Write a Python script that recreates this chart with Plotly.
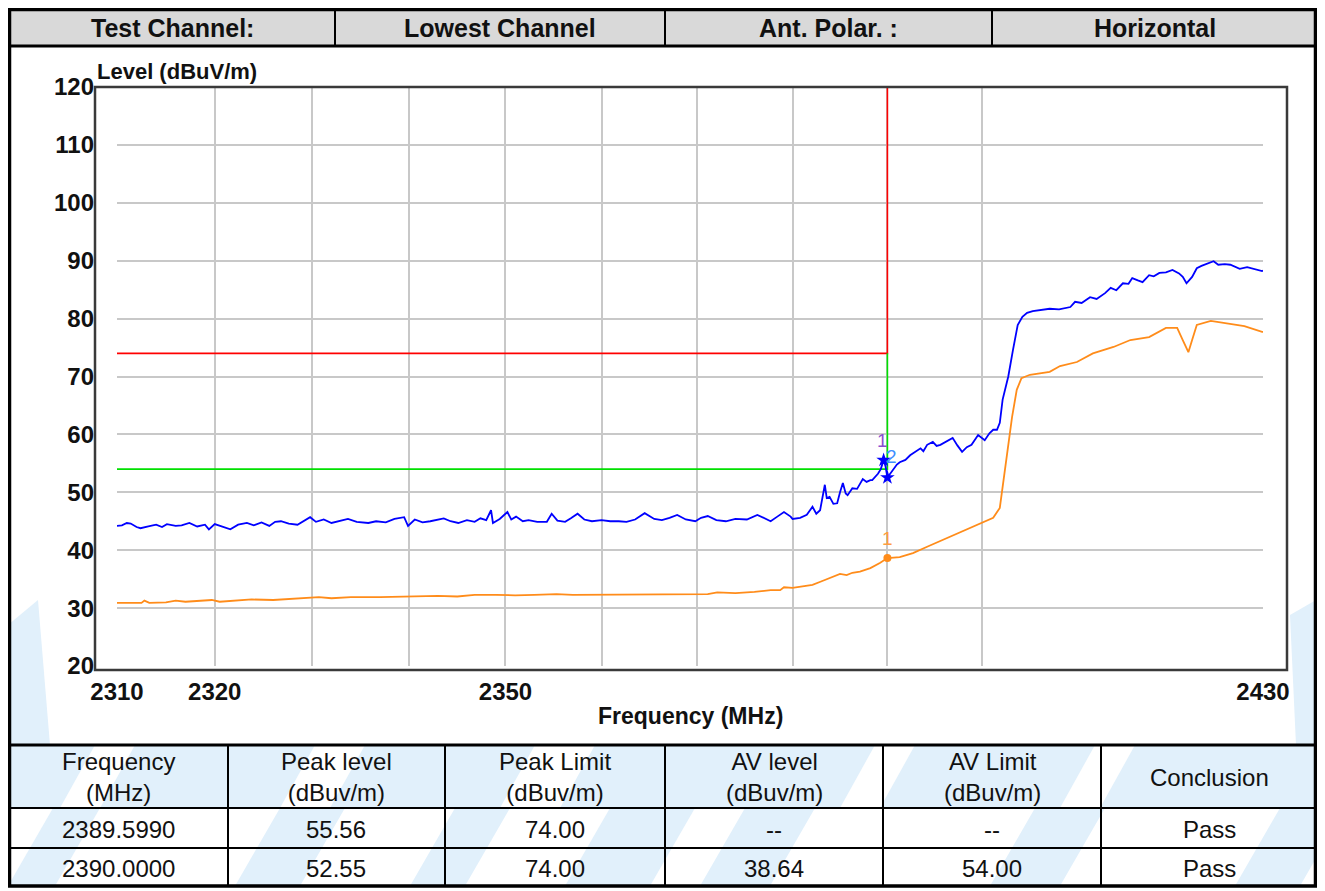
import math
import plotly.graph_objects as go

# The page body has an 8px margin, so the figure is sized to fill the rest of the window
OFF = 8
W, H = 1325 - OFF, 891 - OFF

# ---------------- data ----------------
peak_freq = [2310.0, 2310.5, 2311.0, 2311.4, 2312.0, 2312.4, 2313.2, 2314.0, 2314.6, 2315.1,
             2316.0, 2316.6, 2317.4, 2318.2, 2319.0, 2319.4, 2320.0, 2320.8, 2321.6, 2322.4,
             2323.3, 2324.0, 2324.8, 2325.6, 2326.2, 2326.8, 2327.6, 2328.5, 2329.2, 2329.8,
             2330.4, 2331.2, 2332.0, 2332.8, 2333.7, 2334.6, 2335.8, 2336.6, 2337.6, 2338.5,
             2339.5, 2339.9, 2340.6, 2341.4, 2342.2, 2343.6, 2344.3, 2345.1, 2346.0, 2346.8,
             2347.4, 2348.0, 2348.5, 2348.7, 2349.4, 2350.2, 2350.6, 2351.1, 2351.8, 2352.4,
             2353.3, 2354.3, 2354.8, 2355.4, 2356.2, 2356.8, 2357.5, 2358.2, 2359.0, 2360.0,
             2360.9, 2361.8, 2362.6, 2363.5, 2364.5, 2365.5, 2366.3, 2367.1, 2367.9, 2368.8,
             2369.8, 2370.4, 2371.1, 2372.0, 2373.0, 2374.0, 2375.2, 2376.3, 2377.0, 2377.7,
             2378.4, 2379.1, 2379.8, 2380.0, 2380.8, 2381.5, 2382.1, 2382.5, 2382.9, 2383.4,
             2383.6, 2383.9, 2384.3, 2384.7, 2385.0, 2385.3, 2385.6, 2385.8, 2386.3, 2386.8,
             2387.4, 2387.8, 2388.2, 2388.4, 2389.0, 2389.3, 2389.6, 2389.8, 2390.0, 2390.3,
             2390.6, 2391.0, 2391.3, 2391.9, 2392.4, 2392.9, 2393.5, 2393.8, 2394.2, 2394.8,
             2395.2, 2395.6, 2396.2, 2396.9, 2397.4, 2397.9, 2398.4, 2398.9, 2399.6, 2400.3,
             2400.8, 2401.2, 2401.6, 2401.9, 2402.2, 2402.8, 2403.3, 2403.8, 2404.3, 2404.8,
             2405.4, 2406.3, 2407.2, 2408.2, 2409.4, 2409.9, 2410.6, 2411.5, 2412.2, 2413.1,
             2413.7, 2414.3, 2415.0, 2415.6, 2416.0, 2416.6, 2417.1, 2417.8, 2418.3, 2418.9,
             2419.6, 2420.3, 2421.0, 2421.4, 2421.8, 2422.4, 2422.9, 2423.4, 2423.9, 2424.7,
             2425.2, 2425.9, 2426.5, 2427.0, 2427.5, 2428.3, 2429.0, 2429.9, 2430.0]
peak_level = [44.2, 44.3, 44.7, 44.6, 44.0, 43.8, 44.1, 44.4, 44.0, 44.5,
              44.2, 44.3, 44.7, 44.1, 44.4, 43.6, 44.5, 44.0, 43.6, 44.4,
              44.7, 44.3, 44.8, 44.2, 44.9, 45.0, 44.6, 44.4, 45.1, 45.7,
              44.9, 45.3, 44.7, 45.0, 45.4, 44.9, 44.7, 45.0, 44.8, 45.4,
              45.7, 44.2, 45.3, 44.8, 45.0, 45.5, 45.0, 44.7, 45.2, 44.9,
              45.5, 45.2, 46.9, 44.7, 45.4, 46.6, 45.3, 45.8, 45.0, 45.2,
              44.9, 44.9, 46.3, 45.1, 44.9, 45.5, 46.3, 45.3, 45.0, 45.2,
              45.0, 45.0, 44.9, 45.3, 46.4, 45.4, 45.2, 45.6, 46.1, 45.3,
              45.0, 45.6, 45.9, 45.2, 45.0, 45.4, 45.3, 46.1, 45.6, 45.0,
              45.8, 46.6, 45.8, 45.4, 45.6, 46.1, 47.5, 46.3, 46.9, 51.3,
              49.0, 49.2, 48.0, 48.1, 50.0, 51.6, 49.8, 49.5, 50.7, 50.6,
              52.3, 51.8, 52.1, 52.1, 53.2, 54.0, 55.56, 54.5, 52.55, 53.2,
              53.9, 54.8, 55.2, 55.6, 56.4, 56.9, 57.6, 57.1, 58.2, 58.7,
              58.0, 58.2, 58.8, 59.4, 58.1, 57.0, 57.8, 58.2, 59.9, 59.0,
              60.2, 60.8, 60.8, 62.0, 66.0, 70.0, 74.6, 78.9, 80.3, 81.0,
              81.3, 81.5, 81.7, 81.6, 82.0, 82.9, 82.7, 83.7, 83.4, 84.4,
              85.3, 84.9, 86.1, 86.0, 87.0, 86.6, 86.3, 87.5, 87.3, 87.9,
              88.0, 88.4, 87.8, 87.2, 86.1, 87.2, 88.7, 89.1, 89.4, 89.9,
              89.3, 89.4, 89.3, 89.0, 88.6, 88.9, 88.6, 88.2, 88.3]

avg_freq = [2310.0, 2311.5, 2312.5, 2312.8, 2313.3, 2315.0, 2316.0, 2317.0, 2319.7, 2320.5,
            2322.0, 2323.8, 2326.0, 2328.9, 2330.7, 2332.0, 2334.0, 2337.0, 2340.4, 2343.0,
            2345.0, 2346.8, 2349.0, 2351.0, 2353.0, 2355.3, 2357.0, 2359.0, 2362.0, 2365.0,
            2368.0, 2371.1, 2372.1, 2374.0, 2376.0, 2377.7, 2378.7, 2379.1, 2380.0, 2381.0,
            2382.1, 2383.0, 2383.9, 2385.0, 2385.7, 2386.3, 2387.1, 2388.2, 2389.2, 2390.0,
            2391.3, 2392.7, 2394.2, 2395.2, 2396.9, 2398.7, 2400.1, 2401.2, 2401.9, 2402.2,
            2402.7, 2403.2, 2403.7, 2404.2, 2405.1, 2407.2, 2408.3, 2410.1, 2411.8, 2414.0,
            2415.8, 2417.8, 2419.6, 2420.8, 2421.4, 2422.0, 2422.4, 2422.9, 2424.4, 2425.9,
            2428.0, 2429.9, 2430.0]
avg_level = [30.9, 30.9, 30.9, 31.3, 30.9, 31.0, 31.3, 31.1, 31.4, 31.1,
             31.3, 31.5, 31.4, 31.7, 31.9, 31.7, 31.9, 31.9, 32.0, 32.1,
             32.0, 32.3, 32.3, 32.2, 32.3, 32.4, 32.3, 32.3, 32.4, 32.4,
             32.4, 32.4, 32.7, 32.6, 32.8, 33.1, 33.1, 33.6, 33.5, 33.7,
             34.0, 34.6, 35.2, 35.9, 35.7, 36.1, 36.3, 36.9, 37.8, 38.64,
             38.8, 39.5, 40.6, 41.3, 42.6, 43.8, 44.7, 45.6, 47.3, 50.9,
             56.8, 63.0, 67.7, 69.7, 70.3, 70.8, 71.8, 72.5, 74.0, 75.1,
             76.3, 76.8, 78.4, 78.4, 76.3, 74.2, 76.3, 78.9, 79.6, 79.2,
             78.7, 77.7, 77.7]

peak_limit_freq = [2310, 2390, 2390]
peak_limit_level = [74, 74, 120]
avg_limit_freq = [2310, 2390, 2390]
avg_limit_level = [54, 54, 74]

peak_marker_freq = [2389.599, 2390.0]
peak_marker_level = [55.56, 52.55]
avg_marker_freq = [2390.0]
avg_marker_level = [38.64]

x_tick_vals = [2310, 2320, 2330, 2340, 2350, 2360, 2370, 2380, 2390, 2400, 2430]
x_tick_text = ["2310", "2320", "", "", "2350", "", "", "", "", "", "2430"]
y_tick_vals = [20, 30, 40, 50, 60, 70, 80, 90, 100, 110, 120]

header_cells = ["Test Channel:", "Lowest Channel", "Ant. Polar. :", "Horizontal"]
table_header = ["Frequency<br>(MHz)", "Peak level<br>(dBuv/m)", "Peak Limit<br>(dBuv/m)",
                "AV level<br>(dBuv/m)", "AV Limit<br>(dBuv/m)", "Conclusion"]
table_rows = [["2389.5990", "55.56", "74.00", "--", "--", "Pass"],
              ["2390.0000", "52.55", "74.00", "38.64", "54.00", "Pass"]]

# ---------------- layout helpers (window pixels -> paper) ----------------
def px(x):
    return (x - OFF) / W

def py(y):
    return 1 - (y - OFF) / H

FONT = "Liberation Sans, Arial, sans-serif"
TXT = "#111111"
WM = "#e1f0fb"

fig = go.Figure()

fig.add_trace(go.Scatter(x=peak_limit_freq, y=peak_limit_level, mode="lines",
                         line=dict(color="#ff0000", width=1.6), hoverinfo="skip"))
fig.add_trace(go.Scatter(x=avg_limit_freq, y=avg_limit_level, mode="lines",
                         line=dict(color="#00e000", width=1.6), hoverinfo="skip"))
fig.add_trace(go.Scatter(x=avg_freq, y=avg_level, mode="lines",
                         line=dict(color="#ff8c1a", width=1.8)))
fig.add_trace(go.Scatter(x=peak_freq, y=peak_level, mode="lines",
                         line=dict(color="#0000ff", width=1.8)))
fig.add_trace(go.Scatter(x=peak_marker_freq, y=peak_marker_level, mode="markers",
                         marker=dict(symbol="star", size=11, color="#0000ff")))
fig.add_trace(go.Scatter(x=avg_marker_freq, y=avg_marker_level, mode="markers",
                         marker=dict(symbol="circle", size=8, color="#ff8c1a")))

shapes = []

def poly(pts, color):
    path = "M " + " L ".join(f"{px(a):.5f},{py(b):.5f}" for a, b in pts) + " Z"
    return dict(type="path", xref="paper", yref="paper", path=path,
                fillcolor=color, line=dict(width=0), layer="below")

def band(x0, x1, y_bot, y_top, shift, color):
    return poly([(x0, y_bot), (x1, y_bot), (x1 + shift, y_top), (x0 + shift, y_top)], color)

# watermark
shapes.append(poly([(8, 745), (50, 745), (38, 600), (8, 625)], WM))
shapes.append(poly([(1290, 615), (1316, 600), (1316, 745), (1296, 745)], WM))
shapes.append(dict(type="rect", xref="paper", yref="paper", x0=px(8), x1=px(1316),
                   y0=py(808), y1=py(745), fillcolor=WM, line=dict(width=0), layer="below"))
for a, b in [(60, 100), (280, 330), (500, 560), (840, 880), (1060, 1100)]:
    shapes.append(band(a, b, 808, 745, 35, "#ffffff"))
for a, b in [(8, 55), (235, 300), (410, 465), (565, 650), (700, 770), (990, 1060), (1235, 1300)]:
    shapes.append(band(a, b, 886, 808, 45, WM))

# header fill
shapes.append(dict(type="rect", xref="paper", yref="paper", x0=px(8), x1=px(1316),
                   y0=py(46), y1=py(8), fillcolor="#d9d9d9", line=dict(width=0), layer="below"))

def hline(y, x0, x1, w, color="#000000"):
    return dict(type="line", xref="paper", yref="paper", x0=px(x0), x1=px(x1),
                y0=py(y), y1=py(y), line=dict(color=color, width=w), layer="above")

def vline(x, y0, y1, w, color="#000000"):
    return dict(type="line", xref="paper", yref="paper", x0=px(x), x1=px(x),
                y0=py(y0), y1=py(y1), line=dict(color=color, width=w), layer="above")

# plot frame
shapes.append(dict(type="rect", xref="paper", yref="paper", x0=px(95), x1=px(1287),
                   y0=py(670), y1=py(87), line=dict(color="#3a3a3a", width=2.5), layer="above"))

# header / table grid
shapes.append(hline(46, 8, 1316, 3))
for x in [335, 665, 992]:
    shapes.append(vline(x, 8, 46, 2))
shapes.append(hline(745, 8, 1316, 3))
shapes.append(hline(808, 8, 1316, 2))
shapes.append(hline(848, 8, 1316, 2))
for x in [228, 445, 665, 883, 1101]:
    shapes.append(vline(x, 745, 886, 2))
# outer border
shapes.append(dict(type="rect", xref="paper", yref="paper", x0=px(9.5), x1=px(1315.5),
                   y0=py(886), y1=py(9.5), line=dict(color="#000000", width=3.5), layer="above"))

annotations = []
for txt, cx in zip(header_cells, [172, 500, 828, 1155]):
    annotations.append(dict(x=px(cx), y=py(28), xref="paper", yref="paper", text=txt,
                            showarrow=False, xanchor="center", yanchor="middle",
                            font=dict(family=FONT, size=25, color=TXT, weight="bold")))

col_centers = [118, 336, 555, 774, 992, 1209]
for txt, cx in zip(table_header, col_centers):
    annotations.append(dict(x=px(cx), y=py(777), xref="paper", yref="paper", text=txt,
                            showarrow=False, xanchor="center", yanchor="middle",
                            font=dict(family=FONT, size=24, color=TXT)))
for row, cy in zip(table_rows, [829, 868]):
    for txt, cx in zip(row, col_centers):
        annotations.append(dict(x=px(cx), y=py(cy), xref="paper", yref="paper", text=txt,
                                showarrow=False, xanchor="center", yanchor="middle",
                                font=dict(family=FONT, size=24, color=TXT)))

annotations.append(dict(x=px(95), y=py(71), xref="paper", yref="paper", text="Level (dBuV/m)",
                        showarrow=False, xanchor="left", yanchor="middle",
                        font=dict(family=FONT, size=22, color=TXT, weight="bold")))
annotations.append(dict(x=px(690), y=py(716), xref="paper", yref="paper", text="Frequency (MHz)",
                        showarrow=False, xanchor="center", yanchor="middle",
                        font=dict(family=FONT, size=23, color=TXT, weight="bold")))

# marker labels
annotations.append(dict(x=math.log10(peak_marker_freq[0]), y=peak_marker_level[0], xref="x", yref="y",
                        text="1", showarrow=False, yshift=20, xshift=-1,
                        font=dict(family=FONT, size=19, color="#8a4fd0")))
annotations.append(dict(x=math.log10(peak_marker_freq[1]), y=peak_marker_level[1], xref="x", yref="y",
                        text="2", showarrow=False, yshift=21, xshift=4,
                        font=dict(family=FONT, size=19, color="#3f8fff")))
annotations.append(dict(x=math.log10(avg_marker_freq[0]), y=avg_marker_level[0], xref="x", yref="y",
                        text="1", showarrow=False, yshift=20,
                        font=dict(family=FONT, size=19, color="#ff9d40")))

fig.update_layout(
    width=W, height=H,
    margin=dict(l=0, r=0, t=0, b=0, pad=0, autoexpand=False),
    paper_bgcolor="#ffffff",
    plot_bgcolor="#ffffff",
    showlegend=False,
    shapes=shapes,
    annotations=annotations,
    xaxis=dict(type="log", range=[math.log10(2310), math.log10(2430)],
               domain=[px(117), px(1263)], automargin=False,
               tickmode="array", tickvals=x_tick_vals, ticktext=x_tick_text,
               showgrid=True, gridcolor="#c8c8c8", gridwidth=2,
               zeroline=False, showline=False, ticks="",
               ticklabelstandoff=9,
               tickfont=dict(family=FONT, size=24, color=TXT, weight="bold")),
    yaxis=dict(range=[20, 120], domain=[py(666), py(87)], automargin=False,
               tickmode="array", tickvals=y_tick_vals,
               showgrid=True, gridcolor="#c8c8c8", gridwidth=2,
               zeroline=False, showline=False, ticks="",
               ticklabelstandoff=22,
               tickfont=dict(family=FONT, size=24, color=TXT, weight="bold")),
)

fig.write_html("out.html")
